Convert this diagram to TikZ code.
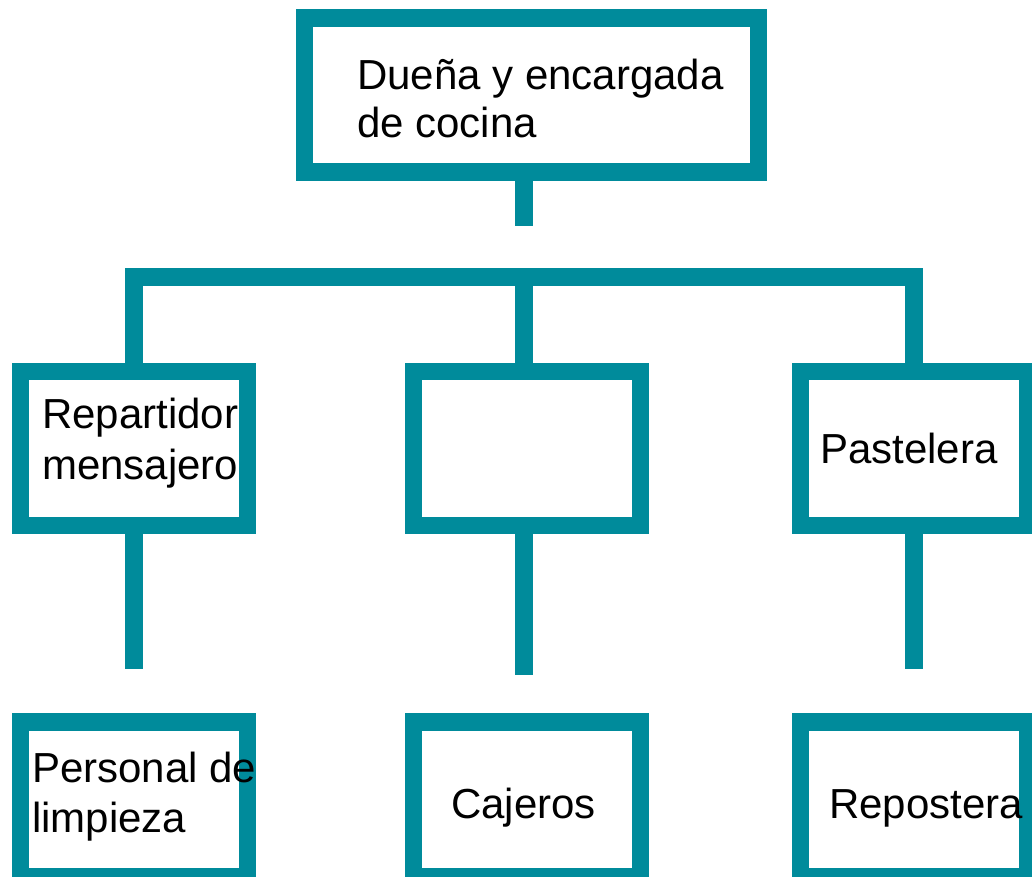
\documentclass[tikz,border=0pt]{standalone}
\usepackage{fontspec}
\setmainfont{Liberation Sans}
\definecolor{teal}{RGB}{0,139,155}
\begin{document}
\begin{tikzpicture}[x=1bp,y=-1bp,
  box/.style={draw=teal, line width=17.5bp, rectangle, inner sep=0pt,
    minimum width=227bp, minimum height=154bp, fill=white},
  link/.style={draw=teal, line width=17.5bp, line cap=butt, line join=miter},
  txt/.style={anchor=base west, align=left, inner sep=0pt, text=black,
    font=\fontsize{42bp}{49bp}\selectfont}]
\useasboundingbox (0,0) rectangle (1032,877);
\clip (0,0) rectangle (1032,877);
% boxes
\node[box, minimum width=454bp] (tl) at (531.5,95) {};
\node[box] (ml) at (134,448.5) {};
\node[box] (mm) at (527,448.5) {};
\node[box] (mr) at (914,448.5) {};
\node[box, minimum height=154.5bp] (bl) at (134,799.25) {};
\node[box, minimum height=154.5bp] (bm) at (527,799.25) {};
\node[box, minimum height=154.5bp] (br) at (914,799.25) {};
% connector coordinates
\coordinate (bar) at (524,277);
\coordinate (topend) at (524,226);
\coordinate (lend) at (134,669);
\coordinate (mend) at (524,675);
\coordinate (rend) at (914,669);
% connectors
\draw[link] (tl.south -| bar) -- (topend);
\draw[link] (ml.north) |- (bar) -| (mr.north);
\draw[link] (bar) -- (bar |- mm.north);
\draw[link] (ml.south) -- (lend);
\draw[link] (bar |- mm.south) -- (mend);
\draw[link] (mr.south) -- (rend);
% texts (base anchor of a multi-line node is its last line)
\node[txt, font=\fontsize{42bp}{48bp}\selectfont] (ttl) at (357,137) {Dueña y encargada\\de cocina};
\node[txt, font=\fontsize{42bp}{51bp}\selectfont] (tml) at (42,479) {Repartidor\\mensajero};
\node[txt] (tmr) at (820,463) {Pastelera};
\node[txt, font=\fontsize{42bp}{50bp}\selectfont] (tbl) at (32,832) {Personal de\\limpieza};
\node[txt] (tbm) at (451,818) {Cajeros};
\node[txt] (tbr) at (829,818) {Repostera};
\end{tikzpicture}
\end{document}
